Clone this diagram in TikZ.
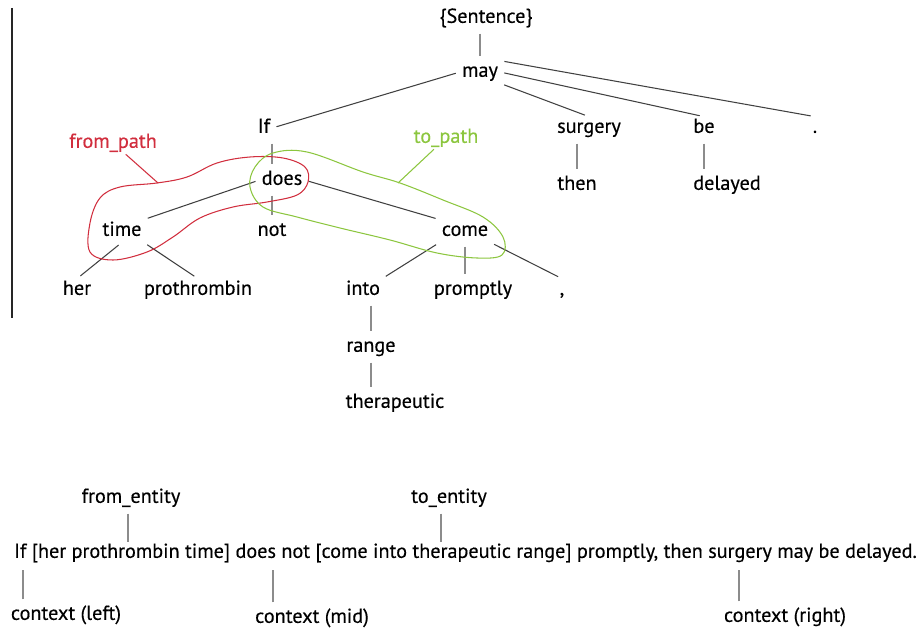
\documentclass[tikz,border=0pt]{standalone}
\usepackage{fontspec}
\setmainfont{PT Sans}[FakeBold=0.35]
\definecolor{pathred}{HTML}{D12E3E}
\definecolor{pathgreen}{HTML}{8CC63F}
\tikzset{
  word/.style={inner sep=1pt,text height=8pt,text depth=2.5pt,font=\fontsize{11.5}{14}\selectfont},
  dep/.style={draw=black!75,line width=0.6pt,shorten <=2.5pt,shorten >=2.5pt},
  tick/.style={draw=black!45,line width=0.6pt,shorten <=2.5pt},
  frompath/.style={draw=pathred,line width=0.6pt},
  topath/.style={draw=pathgreen,line width=0.6pt}
}
\begin{document}
\begin{tikzpicture}
\useasboundingbox (0,0) rectangle (18.44,12.58);
\draw [line width=0.8pt,black!85] (0.24,12.42)-- (0.24,6.22);
\node[word] (sent) at (9.72,12.22) {\{Sentence\}};
\node[word] (may) at (9.60,11.14) {may};
\node[word] (if) at (5.28,10.02) {If};
\node[word] (surgery) at (11.78,10.02) {surgery};
\node[word] (be) at (14.08,10.02) {be};
\node[word] (period) at (16.30,10.02) {.};
\node[word] (does) at (5.64,8.98) {does};
\node[word] (then) at (11.54,8.88) {then};
\node[word] (delayed) at (14.54,8.88) {delayed};
\node[word] (time) at (2.44,7.96) {time};
\node[word] (not) at (5.44,7.96) {not};
\node[word] (come) at (9.30,7.96) {come};
\node[word] (her) at (1.54,6.78) {her};
\node[word] (prothrombin) at (3.96,6.78) {prothrombin};
\node[word] (into) at (7.26,6.78) {into};
\node[word] (promptly) at (9.46,6.78) {promptly};
\node[word] (comma) at (11.24,6.78) {,};
\node[word] (range) at (7.42,5.64) {range};
\node[word] (therapeutic) at (7.90,4.52) {therapeutic};
\draw [dep,draw=black!45] (sent.south -| may) -- (may);
\draw [dep] (may.west) -- (if.east);
\draw [dep] (may.south east) -- (surgery.north);
\draw [dep] (may.east) -- (be.north);
\draw [dep] (may.north east) -- (period.north);
\draw [dep,draw=black!45] (if.south -| not) -- (does.north -| not);
\draw [dep,draw=black!45] (surgery.south -| then) -- (then.north);
\draw [dep,draw=black!45] (be.south) -- (be.south |- delayed.north);
\draw [dep] (does.west) -- (time.north east);
\draw [dep,draw=black!45] (does.south -| not) -- (not.north);
\draw [dep] (does.east) -- (come.north west);
\draw [dep] (time.south) -- (her.north);
\draw [dep] (time.south east) -- (prothrombin.north);
\draw [dep] (come.south west) -- (into.north east);
\draw [dep,draw=black!45] (come.south) -- (come.south |- promptly.north);
\draw [dep] (come.south east) -- (comma.north);
\draw [dep,draw=black!45] (into.south -| range) -- (range.north);
\draw [dep,draw=black!45] (range.south) -- (range.south |- therapeutic.north);
\draw [frompath] plot [smooth cycle,tension=0.6] coordinates {(2.00,8.62) (2.40,8.84) (3.14,8.92) (3.74,9.04) (4.34,9.32) (5.00,9.44) (5.66,9.42) (6.10,9.24) (6.16,8.94) (5.94,8.68) (5.34,8.54) (4.66,8.44) (4.00,8.22) (3.46,7.84) (2.94,7.54) (2.26,7.38) (1.80,7.54) (1.80,8.12)};
\draw [topath] plot [smooth cycle,tension=0.6] coordinates {(5.46,9.52) (6.14,9.54) (7.26,9.14) (8.00,8.92) (8.86,8.58) (9.66,8.24) (10.06,7.84) (10.04,7.48) (9.54,7.42) (8.74,7.52) (7.80,7.78) (6.80,8.02) (5.94,8.24) (5.26,8.44) (5.00,8.84) (5.10,9.24)};
\node[word,text=pathred] (fromlabel) at (2.26,9.72) {from\_path};
\node[word,text=pathgreen] (tolabel) at (8.92,9.82) {to\_path};
\coordinate (fpend) at (3.16,8.92);
\coordinate (tpend) at (7.96,8.92);
\draw [frompath] (fromlabel) -- (fpend);
\draw [topath] (tolabel) -- (tpend);
\node[word] (sentence) at (9.31,1.52) {If [her prothrombin time] does not [come into therapeutic range] promptly, then surgery may be delayed.};
\node[word] (fromentity) at (2.62,2.62) {from\_entity};
\node[word] (toentity) at (8.98,2.62) {to\_entity};
\node[word] (ctxleft) at (1.32,0.28) {context (left)};
\node[word] (ctxmid) at (6.24,0.22) {context (mid)};
\node[word] (ctxright) at (15.70,0.24) {context (right)};
\coordinate (fe) at (2.56,1.74);
\coordinate (te) at (8.82,1.74);
\coordinate (cl) at (0.46,1.18);
\coordinate (cm) at (5.46,1.18);
\coordinate (cr) at (14.78,1.18);
\draw [tick] (fromentity.south -| fe) -- (fe);
\draw [tick] (toentity.south -| te) -- (te);
\draw [tick] (ctxleft.north -| cl) -- (cl);
\draw [tick] (ctxmid.north -| cm) -- (cm);
\draw [tick] (ctxright.north -| cr) -- (cr);
\end{tikzpicture}
\end{document}
